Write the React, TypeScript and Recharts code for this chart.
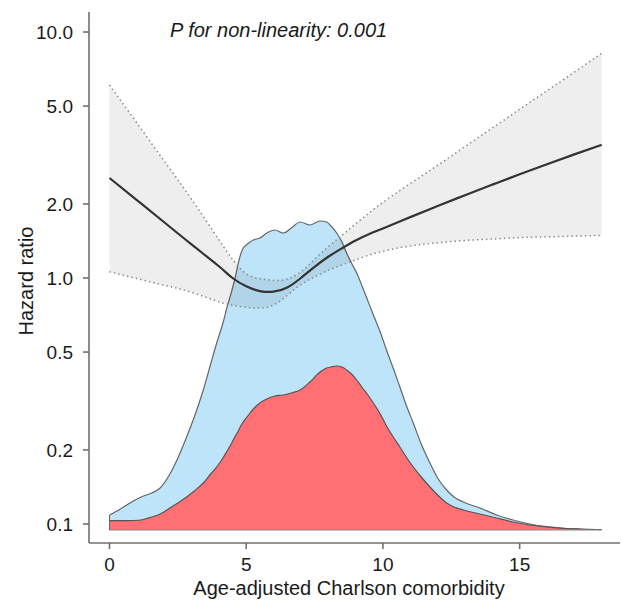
import React from 'react';
import { ComposedChart, Area, Line, XAxis, YAxis, ReferenceLine } from 'recharts';

const FONT = '"Liberation Sans", Arial, Helvetica, sans-serif';

// restricted cubic spline: hazard ratio with 95% CI
const hrX = [0, 1, 2, 3, 4, 4.5, 5, 5.5, 6, 6.5, 7, 7.5, 8, 8.5, 9, 9.5, 10, 11, 12, 13, 14, 15, 16, 17, 18];
const hrEst = [2.55, 2.073, 1.685, 1.369, 1.116, 1.0, 0.925, 0.885, 0.88, 0.915, 1.0, 1.11, 1.22, 1.32, 1.42, 1.51, 1.59, 1.768, 1.961, 2.17, 2.396, 2.639, 2.901, 3.181, 3.478];
const hrLower = [1.06, 0.995, 0.935, 0.875, 0.8, 0.775, 0.76, 0.755, 0.777, 0.85, 0.94, 1.01, 1.075, 1.13, 1.185, 1.24, 1.285, 1.35, 1.39, 1.42, 1.44, 1.46, 1.47, 1.48, 1.49];
const hrUpper = [6.09, 4.27, 2.99, 2.09, 1.43, 1.19, 1.04, 0.995, 0.978, 0.99, 1.06, 1.19, 1.34, 1.49, 1.66, 1.84, 2.03, 2.42, 2.87, 3.42, 4.07, 4.85, 5.77, 6.87, 8.19];

// density of the score: all patients (blue) and events (red)
const densX = [0, 0.4, 0.87, 1.24, 1.55, 1.85, 2.21, 2.5, 2.82, 3.1, 3.43, 3.7, 3.92, 4.15, 4.3, 4.45, 4.6, 4.71, 4.8, 4.89, 5.0, 5.14, 5.26, 5.5, 5.75, 6.05, 6.35, 6.65, 6.97, 7.33, 7.7, 7.94, 8.1, 8.31, 8.5, 8.67, 8.85, 9.04, 9.25, 9.45, 9.65, 9.9, 10.13, 10.4, 10.62, 10.85, 11.11, 11.4, 11.72, 12.0, 12.33, 12.6, 12.94, 13.55, 14.16, 14.76, 15.37, 15.98, 16.6, 17.2, 18];
const densAll = [0.015, 0.021, 0.029, 0.034, 0.037, 0.042, 0.056, 0.072, 0.093, 0.113, 0.14, 0.166, 0.187, 0.207, 0.223, 0.237, 0.253, 0.267, 0.276, 0.282, 0.285, 0.288, 0.29, 0.292, 0.297, 0.3, 0.297, 0.302, 0.308, 0.305, 0.309, 0.308, 0.304, 0.297, 0.288, 0.277, 0.267, 0.257, 0.243, 0.229, 0.215, 0.198, 0.18, 0.16, 0.143, 0.125, 0.107, 0.086, 0.067, 0.052, 0.04, 0.033, 0.028, 0.022, 0.015, 0.01, 0.006, 0.0033, 0.0017, 0.001, 0.0005];
const densEvent = [0.0093, 0.0093, 0.0095, 0.0105, 0.013, 0.016, 0.022, 0.027, 0.033, 0.039, 0.047, 0.056, 0.063, 0.072, 0.079, 0.086, 0.094, 0.099, 0.104, 0.108, 0.112, 0.117, 0.121, 0.127, 0.131, 0.134, 0.135, 0.137, 0.14, 0.148, 0.158, 0.162, 0.163, 0.164, 0.163, 0.16, 0.156, 0.15, 0.142, 0.135, 0.127, 0.116, 0.104, 0.092, 0.083, 0.073, 0.063, 0.053, 0.043, 0.035, 0.027, 0.023, 0.02, 0.016, 0.012, 0.008, 0.005, 0.003, 0.0017, 0.001, 0.0005];

const xTicks = [0, 5, 10, 15];
const yTicks = [0.1, 0.2, 0.5, 1, 2, 5, 10];

const hrData = hrX.map((x, i) => ({
  x,
  est: hrEst[i],
  lo: hrLower[i],
  hi: hrUpper[i],
  band: [hrLower[i], hrUpper[i]],
}));

const densData = densX.map((x, i) => ({ x, all: densAll[i], event: densEvent[i] }));

const AXIS = '#707070';
const tickStyle = { fontSize: 19, fill: '#1a1a1a', fontFamily: FONT };

export default function App() {
  return (
    <div style={{ position: 'absolute', left: 0, top: 0, width: 622, height: 600, background: '#fff' }}>
      <ComposedChart width={622} height={600} margin={{ top: 12, right: 2, bottom: 0, left: 0 }}>
        <XAxis
          type="number"
          dataKey="x"
          domain={[-0.75, 18.67]}
          allowDataOverflow
          ticks={xTicks}
          height={57}
          tickSize={6}
          tickMargin={9}
          axisLine={{ stroke: AXIS, strokeWidth: 1.6 }}
          tickLine={{ stroke: AXIS, strokeWidth: 1.6 }}
          tick={tickStyle}
          label={() => (
            <text x={349} y={595} textAnchor="middle" fontSize={20} fontFamily={FONT} fill="#1a1a1a">
              Age-adjusted Charlson comorbidity
            </text>
          )}
        />
        <YAxis
          yAxisId="hr"
          scale="log"
          type="number"
          domain={[0.0837, 12.06]}
          allowDataOverflow
          ticks={yTicks}
          tickFormatter={(v: number) => v.toFixed(1)}
          width={89}
          tickSize={6}
          tickMargin={10}
          axisLine={{ stroke: AXIS, strokeWidth: 1.6 }}
          tickLine={{ stroke: AXIS, strokeWidth: 1.6 }}
          tick={tickStyle}
          label={() => (
            <text
              x={33}
              y={281}
              transform="rotate(-90, 33, 281)"
              textAnchor="middle"
              fontSize={20}
              fontFamily={FONT}
              fill="#1a1a1a"
            >
              Hazard ratio
            </text>
          )}
        />
        <YAxis yAxisId="dens" orientation="right" type="number" hide domain={[-0.013, 0.518]} allowDataOverflow />

        <Area
          yAxisId="dens"
          data={densData}
          dataKey="all"
          type="monotone"
          baseValue={0}
          fill="#bee4fa"
          fillOpacity={1}
          stroke="#666"
          strokeWidth={1.2}
          isAnimationActive={false}
        />
        <Area
          yAxisId="dens"
          data={densData}
          dataKey="event"
          type="monotone"
          baseValue={0}
          fill="#ff7074"
          fillOpacity={1}
          stroke="#555"
          strokeWidth={1.2}
          isAnimationActive={false}
        />
        <ReferenceLine yAxisId="dens" segment={[{ x: 0, y: 0 }, { x: 18, y: 0 }]} stroke="#888" strokeWidth={1} />
        <ReferenceLine yAxisId="dens" segment={[{ x: 0, y: 0 }, { x: 0, y: densAll[0] }]} stroke="#666" strokeWidth={1} />

        <Area
          yAxisId="hr"
          data={hrData}
          dataKey="band"
          type="natural"
          fill="#000"
          fillOpacity={0.065}
          stroke="none"
          isAnimationActive={false}
        />
        <Line yAxisId="hr" data={hrData} dataKey="hi" type="natural" stroke="#8a8a8a" strokeWidth={1.5} strokeDasharray="1.5 3" dot={false} isAnimationActive={false} />
        <Line yAxisId="hr" data={hrData} dataKey="lo" type="natural" stroke="#8a8a8a" strokeWidth={1.5} strokeDasharray="1.5 3" dot={false} isAnimationActive={false} />
        <Line yAxisId="hr" data={hrData} dataKey="est" type="natural" stroke="#333" strokeWidth={2.2} dot={false} isAnimationActive={false} />
      </ComposedChart>
      <div
        style={{
          position: 'absolute',
          left: 170,
          top: 20,
          fontSize: 20,
          lineHeight: '20px',
          fontStyle: 'italic',
          fontFamily: FONT,
          color: '#1a1a1a',
          whiteSpace: 'nowrap',
        }}
      >
        P for non-linearity: 0.001
      </div>
    </div>
  );
}
